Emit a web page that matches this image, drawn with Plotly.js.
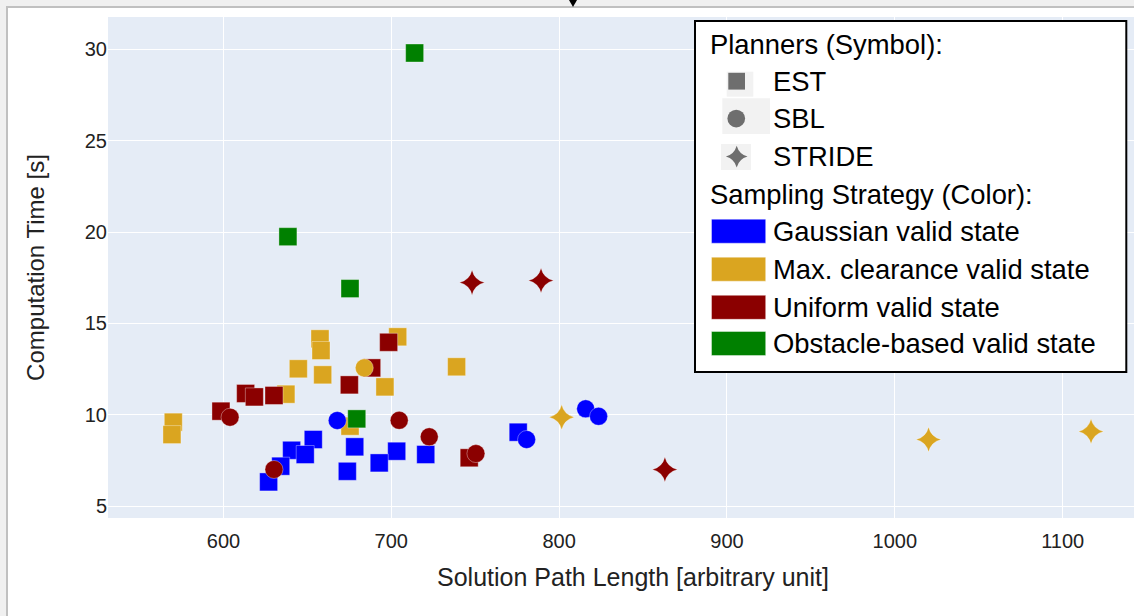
<!DOCTYPE html>
<html><head><meta charset="utf-8">
<script src="https://cdn.plot.ly/plotly-3.0.1.min.js"></script>
<style>
html,body{margin:0;padding:0;width:1134px;height:616px;overflow:hidden;background:#f0f0f0;}
#frame{position:absolute;left:6px;top:6px;width:1200px;height:700px;border-left:2px solid #c0c0c0;border-top:2px solid #c0c0c0;background:#fff;}
#chart{position:absolute;left:0;top:0;width:1160px;height:608px;}
#tri{position:absolute;left:569px;top:0;width:0;height:0;border-left:4px solid transparent;border-right:4px solid transparent;border-top:7px solid #000;z-index:5;}
</style></head>
<body><div id="frame"><div id="chart"></div></div><div id="tri"></div>
<script>
// ---------- data ----------
const planners = ['EST', 'SBL', 'STRIDE'];
const plannerSymbols = ['square', 'circle', 'star-diamond'];
const strategies = ['Gaussian valid state', 'Max. clearance valid state', 'Uniform valid state', 'Obstacle-based valid state'];
const strategyColors = ['#0000ff', '#daa520', '#8b0000', '#008000'];

const estGaussianX = [653.5, 678.2, 640.6, 648.7, 703.2, 720.5, 692.8, 673.8, 634.1, 626.9, 775.6];
const estGaussianY = [8.65, 8.25, 8.06, 7.83, 8.01, 7.83, 7.37, 6.91, 7.19, 6.33, 9.05];
const estMaxClearX = [657.5, 658.1, 703.8, 644.6, 659.1, 696.2, 637.2, 570.1, 569.3, 675.4, 738.9];
const estMaxClearY = [14.16, 13.52, 14.27, 12.52, 12.19, 11.53, 11.13, 9.60, 8.92, 9.38, 12.63];
const estUniformX = [698.4, 688.3, 675.0, 613.2, 618.4, 630.1, 598.5, 746.4];
const estUniformY = [13.97, 12.57, 11.64, 11.17, 10.98, 11.06, 10.20, 7.65];
const estObstacleX = [679.4, 713.9, 638.4, 675.4];
const estObstacleY = [9.78, 29.80, 19.75, 16.91];

const sblGaussianX = [667.8, 815.8, 823.5, 780.6];
const sblGaussianY = [9.69, 10.33, 9.92, 8.65];
const sblMaxClearX = [683.9];
const sblMaxClearY = [12.57];
const sblUniformX = [603.9, 704.7, 722.6, 630.1, 750.4];
const sblUniformY = [9.87, 9.70, 8.80, 7.01, 7.88];
const sblObstacleX = [];
const sblObstacleY = [];

const strideGaussianX = [];
const strideGaussianY = [];
const strideMaxClearX = [801.5, 1020.1, 1116.9];
const strideMaxClearY = [9.87, 8.65, 9.09];
const strideUniformX = [863.0, 748.1, 789.2];
const strideUniformY = [7.01, 17.24, 17.35];
const strideObstacleX = [];
const strideObstacleY = [];

const xTitle = 'Solution Path Length [arbitrary unit]';
const yTitle = 'Computation Time [s]';
const legendPlannerTitle = 'Planners (Symbol):';
const legendStrategyTitle = 'Sampling Strategy (Color):';

// ---------- build traces ----------
const seriesTable = [
  [[estGaussianX, estGaussianY], [estMaxClearX, estMaxClearY], [estUniformX, estUniformY], [estObstacleX, estObstacleY]],
  [[sblGaussianX, sblGaussianY], [sblMaxClearX, sblMaxClearY], [sblUniformX, sblUniformY], [sblObstacleX, sblObstacleY]],
  [[strideGaussianX, strideGaussianY], [strideMaxClearX, strideMaxClearY], [strideUniformX, strideUniformY], [strideObstacleX, strideObstacleY]]
];
const traces = [];
planners.forEach((p, pi) => {
  strategies.forEach((s, si) => {
    const [xs, ys] = seriesTable[pi][si];
    traces.push({
      type: 'scatter', mode: 'markers', name: p + ' - ' + s,
      x: xs, y: ys, showlegend: false,
      marker: {symbol: plannerSymbols[pi], size: 18, color: strategyColors[si],
               line: {width: 1, color: 'rgba(255,255,255,0.35)'}}
    });
  });
});

// ---------- layout geometry (pixels) ----------
const ML = 100, MT = 9, MR = 10, MB = 98, W = 1160, H = 608;
const PL = 8 + ML, PT = 8 + MT, PW = W - ML - MR, PH = H - MT - MB;
const fx = ax => (ax - PL) / PW;
const fy = ay => (PT + PH - ay) / PH;

const shapes = [];
const annotations = [];
const symGrey = '#6e6e6e';
// legend frame
shapes.push({type: 'rect', xref: 'paper', yref: 'paper', x0: fx(695), x1: fx(1126.3), y0: fy(372), y1: fy(21),
  line: {color: '#000', width: 2}, fillcolor: '#fff', layer: 'above'});
// faint boxes behind symbols
[[726.7, 753.3, 71.7, 96.7], [722.3, 770, 98.3, 134], [721, 751, 144, 170]].forEach(b => {
  shapes.push({type: 'rect', xref: 'paper', yref: 'paper', x0: fx(b[0]), x1: fx(b[1]), y0: fy(b[3]), y1: fy(b[2]),
    line: {width: 0}, fillcolor: '#f2f2f2', layer: 'above'});
});
const rowY = [44.2, 81.2, 118.6, 156.6, 194.5, 231.2, 269.2, 307.3, 343.5];
// symbols
shapes.push({type: 'rect', xref: 'paper', yref: 'paper', x0: fx(728.3), x1: fx(745), y0: fy(rowY[1] + 8.4), y1: fy(rowY[1] - 8.4),
  line: {width: 0}, fillcolor: symGrey, layer: 'above'});
shapes.push({type: 'circle', xref: 'paper', yref: 'paper', x0: fx(727.4), x1: fx(745.1), y0: fy(rowY[2] + 8.85), y1: fy(rowY[2] - 8.85),
  line: {width: 0}, fillcolor: symGrey, layer: 'above'});
const rc = 10.8, cc = 0.218 * rc;
shapes.push({type: 'path', xref: 'paper', yref: 'paper', xsizemode: 'pixel', ysizemode: 'pixel',
  xanchor: fx(736.7), yanchor: fy(rowY[3]),
  path: `M${-rc},0 Q${-cc},${cc} 0,${rc} Q${cc},${cc} ${rc},0 Q${cc},${-cc} 0,${-rc} Q${-cc},${-cc} ${-rc},0 Z`,
  line: {width: 0}, fillcolor: symGrey, layer: 'above'});
// colour swatches
strategyColors.forEach((c, i) => {
  const cy = rowY[5 + i];
  shapes.push({type: 'rect', xref: 'paper', yref: 'paper', x0: fx(711.5), x1: fx(765.7), y0: fy(cy + 12), y1: fy(cy - 12),
    line: {width: 1, color: 'rgba(255,255,255,0.4)'}, fillcolor: c, layer: 'above'});
});
// legend texts
const legTexts = [[legendPlannerTitle, 708, 0]]
  .concat(planners.map((p, i) => [p, 771, 1 + i]))
  .concat([[legendStrategyTitle, 708, 4]])
  .concat(strategies.map((s, i) => [s, 771, 5 + i]));
legTexts.forEach(t => {
  annotations.push({text: t[0], xref: 'paper', yref: 'paper', x: fx(t[1]), y: fy(rowY[t[2]]),
    xanchor: 'left', yanchor: 'middle', showarrow: false,
    font: {size: 27.4, color: '#000', family: 'Liberation Sans, Arial, sans-serif'}});
});

const layout = {
  width: W, height: H,
  margin: {l: ML, r: MR, t: MT, b: MB, pad: 0},
  paper_bgcolor: '#ffffff', plot_bgcolor: '#E5ECF6',
  font: {family: 'Liberation Sans, Arial, sans-serif', color: '#222'},
  showlegend: false,
  xaxis: {range: [531.2, 1156.8], dtick: 100, tick0: 0, gridcolor: '#ffffff', gridwidth: 1, zeroline: false,
    showline: false, ticks: '', ticklabelstandoff: 9, tickfont: {size: 20, color: '#222'},
    title: {text: xTitle, standoff: 17, font: {size: 25, color: '#222'}}},
  yaxis: {range: [4.355, 31.77], dtick: 5, tick0: 0, gridcolor: '#ffffff', gridwidth: 1, zeroline: false,
    showline: false, ticks: '', tickfont: {size: 20, color: '#222'},
    title: {text: yTitle, standoff: 33, font: {size: 24, color: '#222'}}},
  shapes: shapes,
  annotations: annotations
};

Plotly.newPlot('chart', traces, layout, {displayModeBar: false, staticPlot: true});
</script></body></html>
